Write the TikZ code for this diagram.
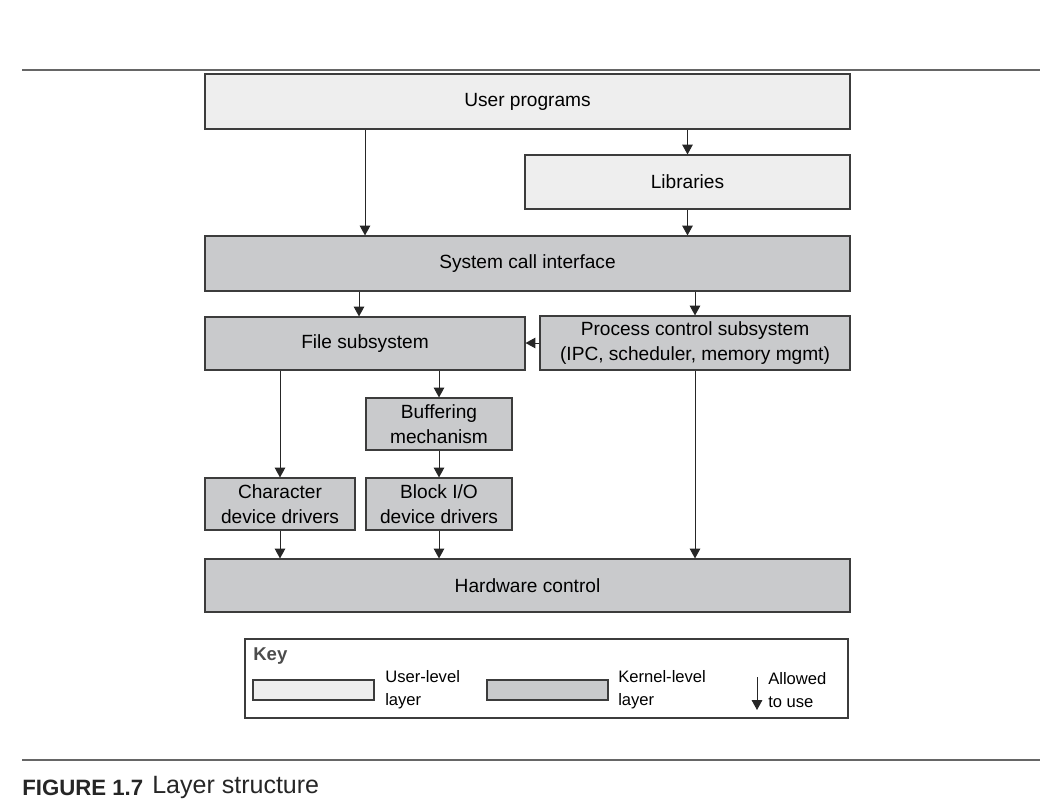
\documentclass[tikz,border=0pt]{standalone}
\usepackage{fontspec}
\setmainfont{Liberation Sans}
\usetikzlibrary{arrows.meta}
\definecolor{userfill}{RGB}{238, 238, 238}
\definecolor{kernfill}{RGB}{201, 202, 204}
\definecolor{edge}{RGB}{60, 60, 60}
\newcommand{\px}{0.25mm}
\tikzset{
	layer/.style={draw=edge, line width=0.8pt, align=center, inner sep=0pt,
		font=\fontsize{13.6}{18}\selectfont},
	userlayer/.style={layer, fill=userfill},
	kernlayer/.style={layer, fill=kernfill},
	fl/.style={-{Triangle[length=7pt, width=7.5pt]}, line width=0.7pt, draw=black!85},
	keytext/.style={anchor=west, align=left, inner sep=0pt, font=\fontsize{11.8}{16.5}\selectfont},
}
\begin{document}
\begin{tikzpicture}[x=\px, y=-\px]
			\useasboundingbox (0,0) rectangle (1040,803);

			% filets
			\draw[gray!80!black, line width=1.1pt] (22,70) -- (1040,70);
			\draw[gray!80!black, line width=1.1pt] (22,760) -- (1040,760);

			% couches
			\node[userlayer, minimum width=645*\px, minimum height=55*\px] (up) at (527.5,101.5) {User programs};
			\node[userlayer, minimum width=325*\px, minimum height=54*\px] (lib) at (687.5,182) {Libraries};
			\node[kernlayer, minimum width=645*\px, minimum height=55*\px] (sci) at (527.5,263.5) {System call interface};
			\node[kernlayer, minimum width=320*\px, minimum height=53*\px] (fs) at (365,343.5) {File subsystem};
			\node[kernlayer, minimum width=310*\px, minimum height=54*\px] (pc) at (695,343) {Process control subsystem\\(IPC, scheduler, memory mgmt)};
			\node[kernlayer, minimum width=146*\px, minimum height=52*\px] (buf) at (439,424) {Buffering\\mechanism};
			\node[kernlayer, minimum width=150*\px, minimum height=52*\px] (chr) at (280,504) {Character\\device drivers};
			\node[kernlayer, minimum width=146*\px, minimum height=52*\px] (blk) at (439,504) {Block I/O\\device drivers};
			\node[kernlayer, minimum width=645*\px, minimum height=53*\px] (hw) at (527.5,585.5) {Hardware control};

			% fleches
			\draw[fl] (up.south -| fs) -- (sci.north -| fs);
			\draw[fl] (up.south -| lib) -- (lib.north);
			\draw[fl] (lib.south) -- (sci.north -| lib);
			\draw[fl] ([xshift=-6*\px]sci.south -| fs) -- ([xshift=-6*\px]fs.north);
			\draw[fl] (sci.south -| pc) -- (pc.north);
			\draw[fl] (pc.west) -- (fs.east |- pc.west);
			\draw[fl] (fs.south -| chr) -- (chr.north);
			\draw[fl] (fs.south -| buf) -- (buf.north);
			\draw[fl] (buf.south) -- (blk.north);
			\draw[fl] (chr.south) -- (hw.north -| chr);
			\draw[fl] (blk.south) -- (hw.north -| blk);
			\draw[fl] (pc.south) -- (hw.north -| pc);

			% legende
			\node[draw=edge, line width=0.8pt, minimum width=603*\px, minimum height=79*\px] (key) at (546.5,678.5) {};
			\node[anchor=west, inner sep=0pt, font=\bfseries\fontsize{13.2}{15}\selectfont, text=black!70] (keyt) at (253,656) {Key};
			\node[userlayer, minimum width=121*\px, minimum height=20*\px] (kuser) at (313.5,690) {};
			\node[keytext] (kusert) at (385,690) {User-level\\layer};
			\node[kernlayer, minimum width=121*\px, minimum height=20*\px] (kkern) at (547.5,690) {};
			\node[keytext] (kkernt) at (618,690) {Kernel-level\\layer};
			\coordinate (ka) at (757,677);
			\coordinate (kb) at (757,710);
			\draw[fl] (ka) -- (kb);
			\node[keytext] (kallow) at (768,690) {Allowed\\to use};

			% legende de la figure
			\node[anchor=west, inner sep=0pt, font=\bfseries\fontsize{15.8}{18}\selectfont, text=black!85] (fig) at (22,788) {FIGURE 1.7};
			\node[anchor=west, inner sep=0pt, font=\fontsize{17.8}{20}\selectfont, text=black!85] (cap) at (152,787) {Layer structure};
		\end{tikzpicture}
\end{document}
